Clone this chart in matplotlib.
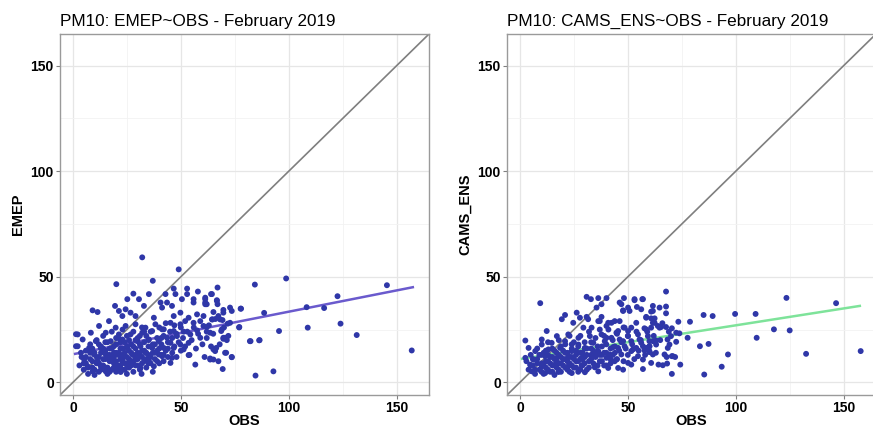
import matplotlib
matplotlib.use("Agg")
import matplotlib.pyplot as plt
import numpy as np

plt.rcParams['font.family'] = ['Liberation Sans', 'DejaVu Sans']

# ---------------- data ----------------
titles = ["PM10: EMEP~OBS - February 2019", "PM10: CAMS_ENS~OBS - February 2019"]
y_labels = ["EMEP", "CAMS_ENS"]
x_label = "OBS"
ticks = [0, 50, 100, 150]
minor_ticks = [25, 75, 125]

# EMEP vs OBS : sparse / outer points (OBS, EMEP)
emep_outer = [
    (84.3, 46.3), (98.8, 49.2), (145.5, 46.0), (122.6, 40.8), (108.3, 35.6), (116.4, 35.2),
    (88.6, 32.9), (77.9, 34.9), (108.8, 25.9), (124.0, 27.8), (131.5, 22.4), (157.0, 15.1),
    (95.5, 24.3), (82.3, 19.5), (86.5, 20.0), (84.6, 3.2), (92.9, 5.2), (77.0, 26.0),
    (71.7, 27.8), (73.6, 12.0), (69.4, 6.3), (71.0, 14.0), (67.4, 10.0), (65.1, 10.8),
    (63.6, 10.8), (65.9, 14.8), (66.4, 16.3), (69.7, 20.6), (71.3, 20.0), (70.5, 21.1),
    (68.7, 24.3), (62.0, 26.2), (62.0, 24.0), (69.3, 29.5), (64.7, 29.8), (67.4, 31.4),
    (69.7, 34.3), (72.8, 35.4), (73.6, 33.8), (67.0, 44.9), (64.4, 41.8), (61.3, 39.4),
    (61.3, 37.8), (66.7, 38.6), (67.0, 37.0), (62.0, 37.0),
]
# EMEP vs OBS : middle band
emep_mid = [
    (49.0, 53.5), (46.7, 44.4), (52.9, 44.4), (47.5, 41.8), (52.9, 41.8), (57.9, 43.0),
    (64.0, 41.8), (55.9, 39.4), (61.3, 40.1), (66.7, 38.9), (43.6, 37.8), (50.5, 39.4),
    (45.9, 36.2), (61.3, 37.0), (55.9, 37.8), (77.7, 34.9), (49.8, 33.0), (57.5, 32.2),
    (69.7, 33.0), (65.1, 33.3), (46.7, 31.4), (53.6, 30.6), (60.5, 31.4), (68.2, 29.8),
    (64.4, 29.8), (45.2, 28.2), (49.8, 27.5), (55.9, 28.2), (60.5, 26.7), (72.8, 28.2),
    (77.1, 26.2), (69.0, 25.1), (42.1, 25.1), (46.7, 24.3), (51.3, 24.0), (57.5, 24.6),
    (63.6, 23.5), (43.6, 21.1), (48.2, 21.9), (54.4, 22.7), (59.0, 21.1), (69.7, 21.1),
    (82.0, 19.5), (86.3, 19.9), (45.2, 18.7), (49.8, 17.9), (53.6, 18.7), (42.1, 16.3),
    (46.7, 16.3), (51.3, 15.6), (65.1, 15.6), (70.5, 14.0), (41.3, 12.4), (45.9, 11.6),
    (53.6, 12.9), (63.6, 11.3), (73.6, 11.9), (45.2, 9.2), (56.7, 8.4),
]
# EMEP vs OBS : low-concentration cluster
emep_low = [
    (32.1, 59.2), (20.1, 46.5), (37.0, 48.1), (28.0, 42.0), (35.2, 41.8), (25.2, 39.4),
    (30.6, 39.4), (19.5, 36.2), (9.1, 34.1), (11.4, 33.3), (21.3, 33.8), (24.4, 34.6),
    (26.7, 33.0), (32.9, 36.2), (16.7, 29.0), (22.9, 31.4), (29.0, 31.4), (37.5, 30.6),
    (41.3, 35.4), (40.6, 37.8), (42.9, 41.8), (12.1, 26.7), (19.8, 25.9), (24.4, 26.7),
    (29.0, 27.5), (33.6, 25.9), (38.2, 27.5), (2.2, 22.7), (8.3, 23.5), (15.2, 23.5),
    (21.3, 22.7), (26.7, 22.7), (32.1, 23.5), (36.7, 24.3), (41.3, 25.1), (4.5, 20.3),
    (10.6, 19.5), (17.5, 19.5), (22.9, 20.3), (29.8, 19.5), (35.2, 20.3), (39.8, 19.5),
    (2.2, 17.1), (7.5, 16.3), (12.9, 16.3), (19.0, 17.1), (25.2, 16.3), (31.3, 17.1),
    (36.7, 16.3), (3.7, 14.0), (9.8, 13.2), (15.2, 13.2), (21.3, 14.0), (27.5, 13.2),
    (33.6, 14.0), (39.8, 13.2), (5.2, 10.8), (11.4, 10.0), (16.7, 10.8), (22.9, 10.0),
    (29.0, 10.8), (35.2, 10.0), (6.8, 7.6), (12.9, 7.6), (19.0, 6.8), (25.2, 7.6),
    (31.3, 6.8), (37.5, 7.6), (9.1, 5.2), (15.2, 5.2), (22.1, 4.9), (31.8, 4.0),
    (1.4, 22.8), (1.4, 17.1),
]
emep_core = [
    (3, 8), (4, 12), (5, 6), (6, 15), (6, 9), (7, 4), (8, 11), (8, 18), (9, 7), (10, 14),
    (10, 3.5), (11, 9), (11, 20), (12, 12), (12, 5), (13, 17), (13, 8), (14, 22), (14, 11),
    (15, 7), (15, 15), (16, 4), (16, 19), (17, 10), (17, 13), (18, 6), (18, 16), (18, 24),
    (19, 9), (19, 12), (20, 5), (20, 18), (20, 14), (21, 8), (21, 21), (22, 11), (22, 16),
    (23, 6), (23, 13), (23, 25), (24, 9), (24, 19), (25, 12), (25, 4), (25, 22), (26, 15),
    (26, 7), (27, 10), (27, 18), (28, 13), (28, 5), (28, 24), (29, 16), (29, 8), (30, 11),
    (30, 21), (30, 14), (31, 6), (31, 18), (32, 12), (32, 9), (32, 26), (33, 15), (33, 19),
    (34, 7), (34, 22), (34, 11), (35, 13), (35, 17), (36, 9), (36, 24), (37, 14), (37, 5),
    (38, 18), (38, 11), (39, 21), (39, 15), (40, 9), (40, 26), (41, 13), (41, 18), (42, 22),
    (42, 10), (43, 15), (43, 28), (44, 19), (44, 12), (45, 24), (46, 14), (46, 21), (47, 27),
    (47, 17), (48, 12), (48, 23), (49, 19), (50, 15), (50, 26), (51, 21), (52, 17), (52, 29),
    (53, 24), (54, 13), (55, 20), (56, 26), (57, 16), (58, 23), (59, 29), (60, 18), (61, 12),
    (62, 21), (63, 27), (64, 17), (65, 23), (66, 30), (68, 18), (70, 26), (72, 22),
]
emep_core2 = [
    (5, 9), (6, 12), (7, 7), (8, 14), (9, 10), (9, 16), (10, 6), (11, 12), (12, 9), (12, 18),
    (13, 6), (13, 14), (14, 8), (14, 16), (15, 11), (15, 19), (16, 7), (16, 13), (17, 16),
    (17, 5), (18, 11), (19, 14), (19, 7), (20, 10), (20, 21), (21, 6), (21, 13), (22, 8),
    (22, 19), (23, 11), (23, 16), (24, 6), (24, 14), (25, 9), (25, 17), (26, 11), (26, 20),
    (27, 8), (27, 14), (28, 10), (28, 17), (29, 12), (29, 20), (30, 8), (31, 13), (31, 22),
    (32, 15), (33, 10), (33, 24), (34, 14), (35, 9), (35, 20), (36, 12), (37, 18), (38, 14),
    (39, 10), (40, 16), (41, 21), (42, 13), (44, 16),
]

# CAMS_ENS vs OBS : sparse / outer points (OBS, CAMS_ENS)
cams_outer = [
    (67.7, 43.0), (123.5, 40.0), (146.5, 37.5), (57.0, 39.4), (61.6, 33.8), (64.7, 35.4),
    (67.7, 35.9), (67.7, 32.7), (58.5, 31.0), (85.1, 31.9), (89.3, 31.4), (99.7, 32.4),
    (109.2, 32.4), (73.4, 28.7), (78.8, 28.7), (61.6, 28.2), (62.4, 30.3), (60.8, 25.9),
    (58.5, 25.1), (65.4, 26.2), (67.7, 26.2), (70.4, 25.6), (72.4, 23.5), (73.9, 23.2),
    (59.3, 21.9), (70.0, 21.9), (77.7, 21.1), (117.7, 25.1), (125.0, 24.6), (109.7, 21.1),
    (63.1, 19.8), (72.4, 19.2), (69.3, 17.9), (60.0, 17.1), (63.1, 17.9), (83.4, 17.1),
    (87.4, 18.2), (57.7, 15.1), (60.0, 14.3), (67.0, 13.2), (96.4, 13.2), (132.6, 13.5),
    (157.9, 14.8), (70.4, 12.4), (71.9, 12.0), (64.2, 8.4), (66.2, 8.1), (68.2, 8.9),
    (74.3, 8.4), (57.0, 6.3), (93.5, 7.4), (70.4, 4.0), (85.4, 3.7),
]
cams_mid = [
    (40.1, 39.9), (53.1, 38.9), (47.0, 37.0), (61.6, 36.2), (47.8, 33.8), (50.8, 33.8),
    (56.2, 34.6), (46.2, 29.0), (53.9, 28.2), (60.8, 30.3), (62.4, 28.2), (42.4, 28.2),
    (40.1, 26.7), (48.5, 25.9), (57.7, 25.6), (64.7, 25.9), (44.7, 23.5), (50.1, 24.3),
    (54.7, 22.7), (40.1, 21.1), (46.2, 20.3), (51.6, 19.5), (55.4, 20.3), (60.0, 19.5),
    (68.4, 20.3), (43.2, 16.7), (48.5, 17.1), (53.9, 16.3), (57.0, 17.1), (41.6, 13.2),
    (47.0, 13.2), (51.6, 14.8), (60.0, 14.8), (70.8, 12.4), (44.7, 10.8), (50.1, 9.2),
    (57.0, 10.8), (40.9, 6.8), (45.5, 6.8), (47.8, 6.0), (48.2, 39.9), (53.1, 39.4),
    (56.7, 39.4), (47.8, 34.1), (50.1, 35.4), (54.2, 35.7), (60.8, 33.5), (46.2, 37.8),
    (35.5, 35.4), (30.9, 31.0), (36.3, 29.0), (40.9, 28.2), (43.9, 29.0), (37.8, 31.0),
    (58.5, 30.6), (51.6, 25.9), (63.9, 26.7), (45.5, 24.3), (50.1, 21.9), (42.4, 21.1),
    (47.8, 19.5), (56.2, 18.7), (61.6, 19.5), (45.5, 16.3), (52.4, 15.6), (58.5, 16.3),
    (68.5, 16.3), (54.7, 12.4), (61.6, 13.2), (43.9, 10.0), (51.6, 8.4), (60.8, 9.2),
]
cams_low = [
    (9.4, 37.5), (30.9, 40.5), (32.9, 39.4), (36.3, 39.9), (37.8, 37.0), (20.9, 31.9),
    (19.4, 29.9), (26.3, 33.0), (27.8, 30.6), (24.7, 28.2), (31.6, 29.9), (37.0, 29.0),
    (29.4, 25.9), (33.2, 25.9), (12.4, 24.3), (17.1, 21.9), (22.4, 22.7), (27.1, 21.1),
    (32.4, 21.9), (37.8, 22.7), (2.5, 19.8), (10.1, 20.3), (10.1, 17.9), (14.7, 18.7),
    (20.9, 19.5), (27.1, 17.9), (34.0, 18.7), (39.3, 19.5), (4.0, 16.3), (7.1, 14.8),
    (13.2, 15.6), (18.6, 16.3), (24.0, 14.8), (30.1, 16.3), (36.3, 14.8), (2.5, 11.6),
    (6.3, 10.8), (11.7, 12.4), (17.1, 11.6), (22.4, 12.4), (28.6, 11.6), (34.7, 12.4),
    (40.1, 11.6), (4.7, 8.4), (10.1, 7.6), (16.3, 8.4), (22.4, 7.6), (28.6, 8.1),
    (34.7, 7.1), (5.5, 5.2), (11.7, 4.4), (17.8, 4.9), (24.0, 4.4), (30.1, 4.8), (36.3, 5.2),
]
cams_core = [
    (3, 10), (4, 6), (5, 13), (6, 8), (7, 4), (8, 11), (8, 16), (9, 6), (10, 9), (10, 13),
    (11, 4), (12, 7), (12, 15), (13, 10), (13, 19), (14, 5), (14, 12), (15, 8), (15, 16),
    (16, 11), (16, 3.5), (17, 14), (17, 7), (18, 9), (18, 20), (19, 12), (19, 5), (20, 15),
    (20, 8), (21, 11), (21, 18), (22, 6), (22, 14), (23, 9), (23, 22), (24, 12), (24, 16),
    (25, 7), (25, 19), (26, 10), (26, 13), (27, 5), (27, 17), (28, 11), (28, 22), (29, 14),
    (29, 8), (30, 19), (30, 12), (31, 6), (31, 16), (32, 10), (32, 24), (33, 13), (33, 19),
    (34, 9), (34, 15), (35, 12), (35, 21), (36, 17), (36, 8), (37, 13), (37, 25), (38, 10),
    (38, 17), (39, 14), (39, 22), (40, 8), (40, 18), (41, 12), (41, 25), (42, 16), (42, 9),
    (43, 20), (43, 13), (44, 17), (45, 11), (45, 23), (46, 15), (47, 19), (48, 10), (48, 26),
    (49, 16), (50, 13), (50, 22), (52, 18), (53, 11), (54, 24), (55, 15), (56, 20), (58, 13),
    (59, 24), (60, 17), (62, 22), (63, 14), (65, 20), (66, 28), (68, 12), (69, 24),
]
cams_core2 = [
    (5, 8), (6, 11), (7, 6), (8, 9), (9, 13), (10, 5), (11, 8), (11, 14), (12, 10), (13, 6),
    (13, 13), (14, 9), (15, 12), (15, 5), (16, 8), (16, 15), (17, 10), (18, 6), (18, 13),
    (19, 9), (19, 17), (20, 11), (21, 7), (21, 14), (22, 10), (23, 5), (23, 12), (24, 8),
    (24, 18), (25, 11), (26, 7), (26, 15), (27, 10), (28, 14), (28, 6), (29, 11), (30, 9),
    (30, 16), (31, 13), (32, 7), (33, 11), (33, 16), (34, 13), (35, 8), (36, 14), (37, 10),
    (38, 13), (39, 8), (40, 14), (42, 11), (44, 14),
]

# linear fits (intercept, slope, x range)
emep_fit = (13.3, 0.2016)
cams_fit = (11.0, 0.160)
fit_x_range = (1.0, 157.5)

axis_lim = (-6.0, 165.0)

# ---------------- style ----------------
point_color = "#2f37a8"
fit_colors = ["#6a5acd", "#7ee39a"]
diag_color = "#7f7f7f"

W, H = 873, 429
fig = plt.figure(figsize=(W / 100, H / 100), dpi=100)
fig.patch.set_facecolor("white")

panels = [
    (60, emep_outer + emep_mid + emep_low + emep_core + emep_core2, emep_fit),
    (507, cams_outer + cams_mid + cams_low + cams_core + cams_core2, cams_fit),
]

top_px, bottom_px, width_px = 34, 395, 369
for i, (left_px, pts, fit) in enumerate(panels):
    ax = fig.add_axes([left_px / W, 1 - bottom_px / H, width_px / W, (bottom_px - top_px) / H])
    ax.set_facecolor("white")
    ax.set_xlim(*axis_lim)
    ax.set_ylim(*axis_lim)
    ax.set_xticks(ticks)
    ax.set_yticks(ticks)
    ax.set_xticks(minor_ticks, minor=True)
    ax.set_yticks(minor_ticks, minor=True)
    ax.grid(which="major", color="#e6e6e6", linewidth=0.9)
    ax.grid(which="minor", color="#f2f2f2", linewidth=0.6)
    ax.tick_params(which="minor", length=0)
    ax.tick_params(which="major", length=3, color="#808080", width=0.8,
                   labelsize=10, pad=1.5)
    for lab in ax.get_xticklabels() + ax.get_yticklabels():
        lab.set_fontweight("bold")
    for sp in ax.spines.values():
        sp.set_color("#9a9a9a")
        sp.set_linewidth(1.0)
    ax.set_axisbelow(True)

    xs = np.array([p[0] for p in pts])
    ys = np.array([p[1] for p in pts])
    ax.axline((0, 0), slope=1, color=diag_color, linewidth=1.2, zorder=2)
    fx = np.array(fit_x_range)
    ax.plot(fx, fit[0] + fit[1] * fx, color=fit_colors[i], linewidth=1.8, zorder=2.5)
    ax.scatter(xs, ys, s=18, color=point_color, edgecolors="none", zorder=3)

    ax.set_title(titles[i], loc="left", fontsize=12.3, pad=6)
    ax.set_xlabel(x_label, fontsize=10.5, fontweight="bold", labelpad=-1)
    ax.set_ylabel(y_labels[i], fontsize=10.5, fontweight="bold", labelpad=4)

fig.savefig("out.png", dpi=100)
